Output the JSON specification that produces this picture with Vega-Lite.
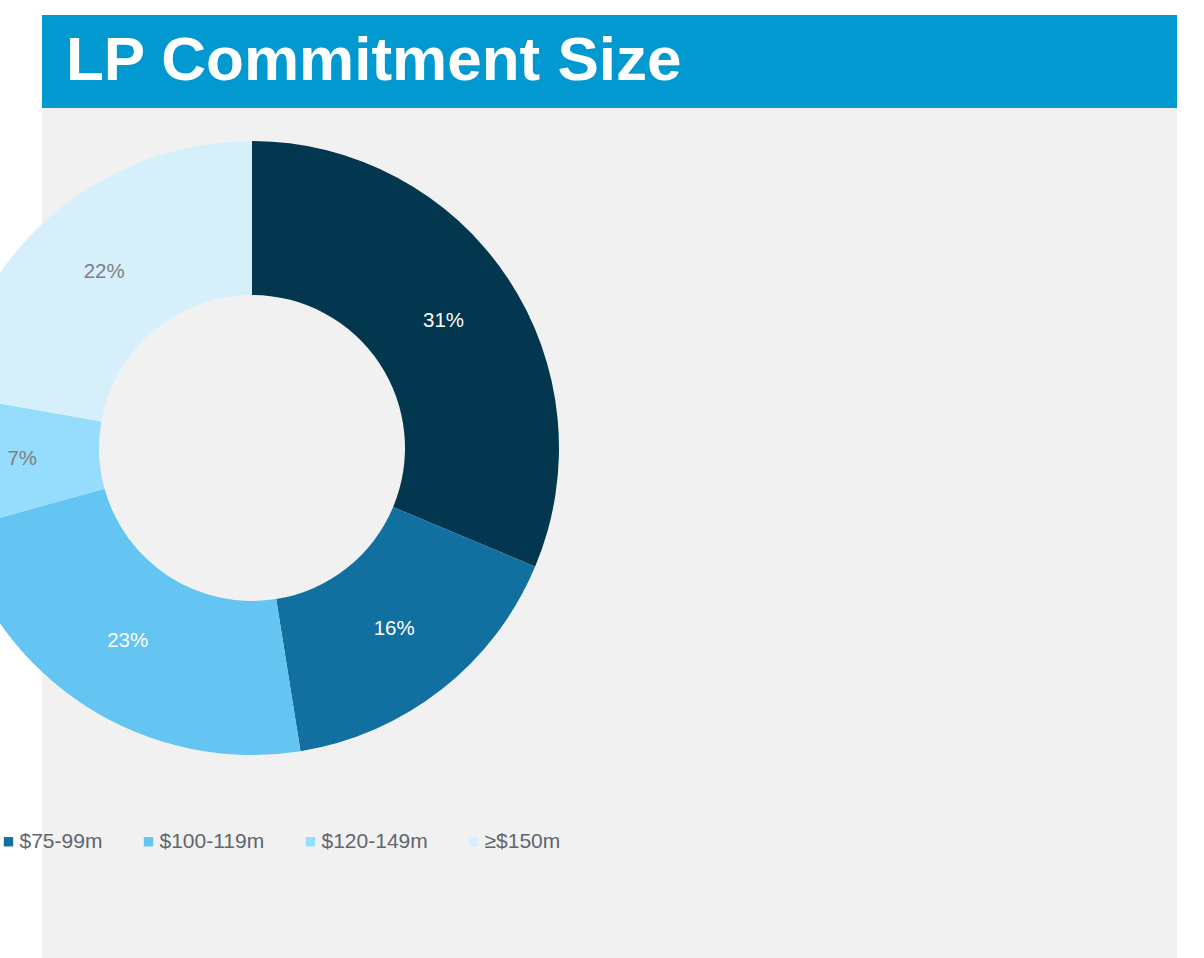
{
  "$schema": "https://vega.github.io/schema/vega-lite/v6.json",
  "background": "#f1f1f1",
  "autosize": {"type": "none"},
  "padding": {"left": 0, "top": 0, "right": 1177, "bottom": 958},
  "spacing": 0,
  "bounds": "flush",
  "config": {"view": {"stroke": null}, "font": "Liberation Sans"},
  "hconcat": [
    {
      "width": 42,
      "height": 958,
      "view": {"fill": "#ffffff"},
      "data": {"values": [{}]},
      "mark": {"type": "point", "opacity": 0},
      "encoding": {}
    },
    {
      "spacing": 0,
      "bounds": "flush",
      "vconcat": [
        {
          "width": 1135,
          "height": 15,
          "view": {"fill": "#ffffff"},
          "data": {"values": [{}]},
          "mark": {"type": "point", "opacity": 0},
          "encoding": {}
        },
        {
          "width": 1135,
          "height": 93,
          "view": {"fill": "#0299d1"},
          "title": {
            "text": "LP Commitment Size",
            "anchor": "start",
            "frame": "group",
            "orient": "top",
            "offset": -127,
            "dx": 24,
            "baseline": "alphabetic",
            "font": "Liberation Sans",
            "fontSize": 62,
            "fontWeight": "bold",
            "color": "#ffffff"
          },
          "data": {"values": [{}]},
          "mark": {"type": "point", "opacity": 0},
          "encoding": {}
        },
        {
          "width": 420,
          "height": 680,
          "data": {
            "values": [
              {"size": "<$75m", "share": 0.31, "rank": 1},
              {"size": "$75-99m", "share": 0.16, "rank": 2},
              {"size": "$100-119m", "share": 0.23, "rank": 3},
              {"size": "$120-149m", "share": 0.07, "rank": 4},
              {"size": "≥$150m", "share": 0.22, "rank": 5}
            ]
          },
          "encoding": {
            "theta": {"field": "share", "type": "quantitative", "stack": true},
            "order": {"field": "rank", "type": "quantitative"}
          },
          "layer": [
            {
              "mark": {"type": "arc", "innerRadius": 153, "outerRadius": 307},
              "encoding": {
                "color": {
                  "field": "size",
                  "type": "nominal",
                  "scale": {
                    "domain": ["<$75m", "$75-99m", "$100-119m", "$120-149m", "≥$150m"],
                    "range": ["#02374f", "#1170a0", "#64c4f2", "#95dcfd", "#d6f0fb"]
                  },
                  "legend": {
                    "title": null,
                    "orient": "none",
                    "legendX": -124,
                    "legendY": 831,
                    "direction": "horizontal",
                    "columns": 5,
                    "padding": 0,
                    "symbolType": "square",
                    "symbolSize": 88,
                    "symbolStrokeWidth": 0,
                    "labelFont": "Liberation Sans",
                    "labelFontSize": 21,
                    "labelColor": "#5f666d",
                    "labelOffset": 0.5,
                    "columnPadding": 35
                  }
                }
              }
            },
            {
              "mark": {"type": "text", "radius": 230, "font": "Liberation Sans", "fontSize": 20.5},
              "encoding": {
                "text": {"field": "share", "type": "quantitative", "format": ".0%"},
                "color": {
                  "condition": {"test": "datum.rank > 3", "value": "#7f7f7f"},
                  "value": "#ffffff"
                }
              }
            }
          ]
        }
      ]
    }
  ]
}
